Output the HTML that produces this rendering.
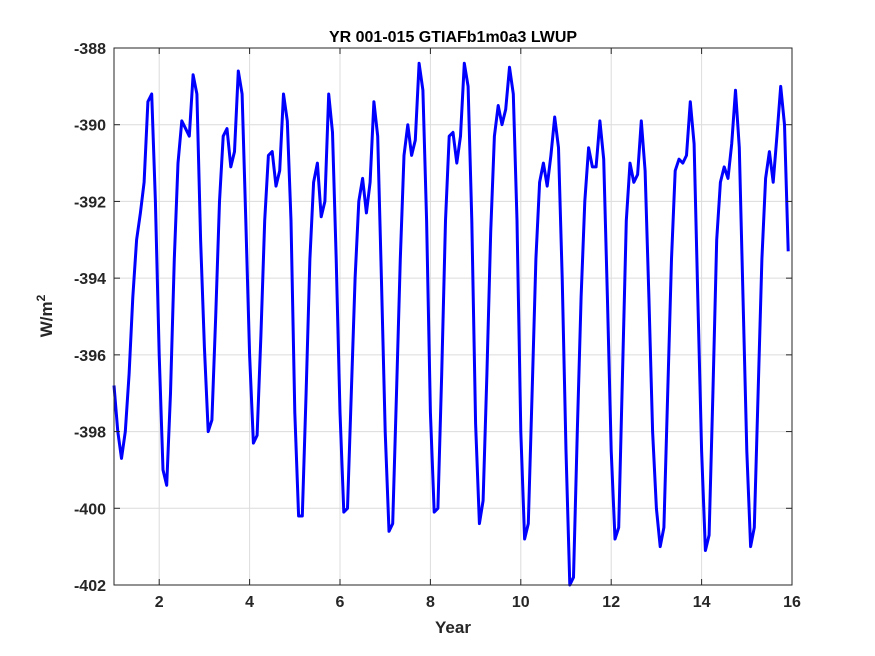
<!DOCTYPE html>
<html><head><meta charset="utf-8"><style>
body{margin:0;background:#fff;}
svg{display:block;font-family:"Liberation Sans",sans-serif;}
</style></head><body>
<svg id="chart" width="875" height="656" viewBox="0 0 875 656">
<rect width="875" height="656" fill="#fff"/>
<g id="grid"></g>
<g id="plot"></g>
<rect x="114" y="48" width="678" height="537" fill="none" stroke="#262626" stroke-width="1"/>
<g id="ticks"></g>
<text x="453" y="42" text-anchor="middle" font-size="16" font-weight="bold" fill="#000">YR 001-015 GTIAFb1m0a3 LWUP</text>
<text x="453" y="633" text-anchor="middle" font-size="17" font-weight="bold" fill="#262626">Year</text>
<text transform="translate(52,316) rotate(-90)" text-anchor="middle" font-size="17" font-weight="bold" fill="#262626">W/m<tspan dy="-7" font-size="12">2</tspan></text>
</svg>
<script>
const xTicks=[2,4,6,8,10,12,14,16];
const yTicks=[-388,-390,-392,-394,-396,-398,-400,-402];
const startYear=1;
const lwup=[
-396.8,-398.0,-398.7,-398.0,-396.5,-394.5,-393.0,-392.3,-391.5,-389.4,-389.2,-392.0,
-396.0,-399.0,-399.4,-397.0,-393.5,-391.0,-389.9,-390.1,-390.3,-388.7,-389.2,-393.0,
-395.8,-398.0,-397.7,-395.0,-392.0,-390.3,-390.1,-391.1,-390.7,-388.6,-389.2,-392.5,
-396.0,-398.3,-398.1,-395.5,-392.5,-390.8,-390.7,-391.6,-391.2,-389.2,-389.9,-392.5,
-397.5,-400.2,-400.2,-397.0,-393.5,-391.5,-391.0,-392.4,-392.0,-389.2,-390.2,-393.5,
-397.5,-400.1,-400.0,-397.0,-394.0,-392.0,-391.4,-392.3,-391.5,-389.4,-390.3,-394.0,
-398.0,-400.6,-400.4,-397.0,-393.5,-390.8,-390.0,-390.8,-390.4,-388.4,-389.1,-392.5,
-397.5,-400.1,-400.0,-396.5,-392.5,-390.3,-390.2,-391.0,-390.3,-388.4,-389.0,-392.5,
-397.8,-400.4,-399.8,-396.5,-392.8,-390.3,-389.5,-390.0,-389.6,-388.5,-389.2,-392.5,
-398.0,-400.8,-400.4,-397.0,-393.5,-391.5,-391.0,-391.6,-390.8,-389.8,-390.6,-394.0,
-398.5,-402.0,-401.8,-398.0,-394.5,-392.0,-390.6,-391.1,-391.1,-389.9,-390.9,-394.5,
-398.5,-400.8,-400.5,-396.5,-392.5,-391.0,-391.5,-391.3,-389.9,-391.2,-394.5,-398.0,
-400.0,-401.0,-400.5,-397.0,-393.5,-391.2,-390.9,-391.0,-390.8,-389.4,-390.5,-394.5,
-398.5,-401.1,-400.7,-397.0,-393.0,-391.5,-391.1,-391.4,-390.5,-389.1,-390.6,-394.5,
-398.5,-401.0,-400.5,-397.0,-393.5,-391.4,-390.7,-391.5,-390.3,-389.0,-390.0,-393.3
];
const X0=114,X1=792,Y0=48,Y1=585;
const xs=v=>X0+(v-1)/(16-1)*(X1-X0);
const ys=v=>Y0+(-388-v)/(-388+402)*(Y1-Y0);
const NS='http://www.w3.org/2000/svg';
const grid=document.getElementById('grid'),ticks=document.getElementById('ticks'),plot=document.getElementById('plot');
function mk(t,a){const e=document.createElementNS(NS,t);for(const k in a)e.setAttribute(k,a[k]);return e;}
xTicks.forEach(t=>{
 const x=xs(t);
 const g=mk('line',{x1:x,x2:x,y1:Y0,y2:Y1,stroke:'#dcdcdc','stroke-width':1});
 
 
 grid.appendChild(g);
 const tk=mk('line',{x1:x,x2:x,y1:Y1,y2:Y1-6,stroke:'#262626'});
 
 
 ticks.appendChild(tk);
 const tk2=mk('line',{x1:x,x2:x,y1:Y0,y2:Y0+6,stroke:'#262626'});
 
 
 ticks.appendChild(tk2);
 const l=mk('text',{x:x,y:Y1+22,'text-anchor':'middle','font-size':16,'font-weight':'bold',fill:'#262626'});
 l.textContent=t;
 
 
 ticks.appendChild(l);
});
yTicks.forEach(t=>{
 const y=ys(t);
 const g=mk('line',{x1:X0,x2:X1,y1:y,y2:y,stroke:'#dcdcdc','stroke-width':1});
 
 
 grid.appendChild(g);
 const tk=mk('line',{x1:X0,x2:X0+6,y1:y,y2:y,stroke:'#262626'});
 
 
 ticks.appendChild(tk);
 const tk2=mk('line',{x1:X1,x2:X1-6,y1:y,y2:y,stroke:'#262626'});
 
 
 ticks.appendChild(tk2);
 const l=mk('text',{x:X0-8,y:y+6,'text-anchor':'end','font-size':16,'font-weight':'bold',fill:'#262626'});
 l.textContent=t;
 
 
 ticks.appendChild(l);
});
const pts=lwup.map((v,i)=>xs(startYear+i/12).toFixed(1)+','+ys(v).toFixed(1)).join(' ');
const line=mk('polyline',{points:pts,fill:'none',stroke:'#0000ff','stroke-width':3,'stroke-linejoin':'round'});


plot.appendChild(line);
</script>
</body></html>
